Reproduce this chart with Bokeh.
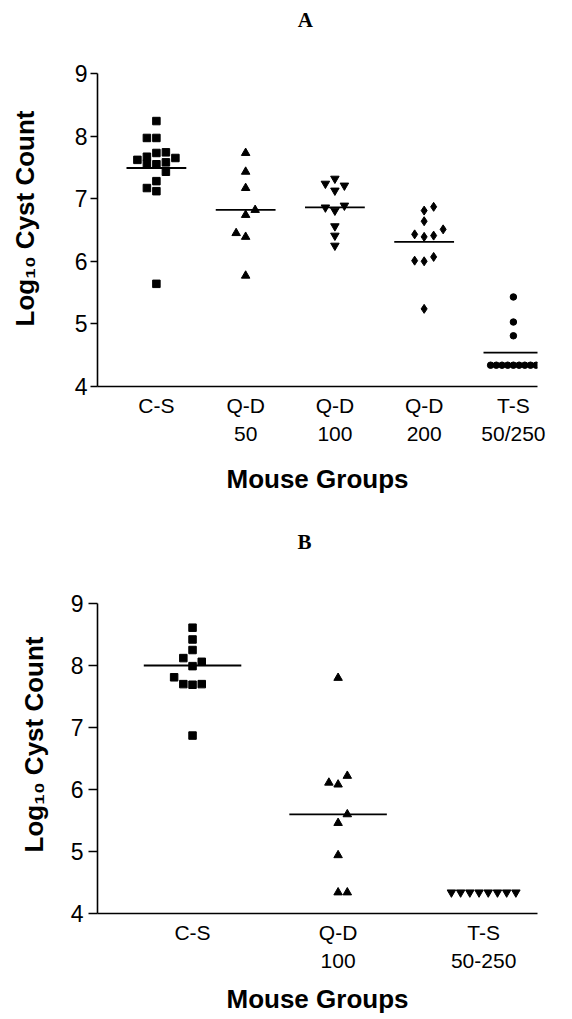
from bokeh.plotting import figure
from bokeh.layouts import column
from bokeh.models import FixedTicker, LinearAxis
from bokeh.embed import file_html
from bokeh.resources import INLINE

# ---------------- Data: panel A ----------------
a_groups = ["C-S", "Q-D\n50", "Q-D\n100", "Q-D\n200", "T-S\n50/250"]
a_cs = [8.24, 7.97, 7.97, 7.62, 7.67, 7.73, 7.74, 7.65, 7.56, 7.55, 7.58, 7.43, 7.28, 7.17, 7.12, 5.64]
a_qd50 = [7.73, 7.43, 7.17, 6.82, 6.74, 6.45, 6.39, 5.77]
a_qd100 = [7.32, 7.24, 7.21, 7.13, 6.86, 6.89, 6.81, 6.56, 6.41, 6.25]
a_qd200 = [6.87, 6.81, 6.64, 6.51, 6.43, 6.39, 6.41, 6.01, 6.00, 6.07, 5.24]
a_ts = [5.43, 5.03, 4.81, 4.34, 4.34, 4.34, 4.34, 4.34, 4.34, 4.34, 4.34, 4.34]
a_means = [7.49, 6.82, 6.86, 6.31, 4.54]

# ---------------- Data: panel B ----------------
b_groups = ["C-S", "Q-D\n100", "T-S\n50-250"]
b_cs = [8.61, 8.42, 8.25, 8.12, 8.06, 7.99, 7.81, 7.70, 7.69, 7.70, 6.87]
b_qd100 = [7.80, 6.22, 6.11, 6.08, 5.60, 5.46, 4.94, 4.34, 4.34]
b_ts = [4.34, 4.34, 4.34, 4.34, 4.34, 4.34, 4.34, 4.34]
b_means = [8.00, 5.60]

y_ticks = [4, 5, 6, 7, 8, 9]

# side-by-side slots for overlapping points (layout only)
a_cs_slot = [0, -1, 0, -2, -1, 0, 1, 2, -1, 0, 1, 1, 0, -1, 0, 0]
a_qd50_slot = [0, 0, 0, 1, 0, -1, 0, 0]
a_qd100_slot = [0, -1, 1, 0, -1, 1, 0, 0, 0, 0]
a_qd200_slot = [1, 0, 0, 2, -1, 0, 1, -1, 0, 1, 0]
a_ts_slot = [0, 0, 0, -2.4, -1.8, -1.2, -0.6, 0, 0.6, 1.2, 1.8, 2.4]
b_cs_slot = [0, 0, 0, -1, 1, 0, -2, -1, 0, 1, 0]
b_qd100_slot = [0, 1, -1, 0, 1, 0, 0, 0, 1]
b_ts_slot = [-3.5, -2.5, -1.5, -0.5, 0.5, 1.5, 2.5, 3.5]

SANS = "Liberation Sans"
SERIF = "Liberation Serif"
SLOT_PX = 9.5


def style(p, groups, label_standoff, tick_standoff, tick_out, x_label_standoff):
    p.xgrid.visible = False
    p.ygrid.visible = False
    p.outline_line_color = None
    p.background_fill_color = "white"
    p.border_fill_color = "white"

    p.yaxis.bounds = (4, 9)
    p.yaxis.ticker = FixedTicker(ticks=y_ticks)
    p.yaxis.major_label_text_font = SANS
    p.yaxis.major_label_text_font_size = "23px"
    p.yaxis.major_label_text_color = "black"
    p.yaxis.major_label_standoff = tick_standoff
    p.yaxis.major_tick_out = tick_out
    p.yaxis.major_tick_in = 0
    p.yaxis.minor_tick_line_color = None
    p.yaxis.axis_line_width = 1.6
    p.yaxis.major_tick_line_width = 1.4
    p.yaxis.axis_line_color = "black"
    p.yaxis.major_tick_line_color = "black"
    p.yaxis.axis_label = "Log\u2081\u2080 Cyst Count"
    p.yaxis.axis_label_text_font = SANS
    p.yaxis.axis_label_text_font_style = "bold"
    p.yaxis.axis_label_text_font_size = "26px"
    p.yaxis.axis_label_text_color = "black"
    p.yaxis.axis_label_standoff = label_standoff

    p.xaxis.ticker = FixedTicker(ticks=list(range(1, len(groups) + 1)))
    p.xaxis.major_label_overrides = {i + 1: g for i, g in enumerate(groups)}
    p.xaxis.major_label_text_font = SANS
    p.xaxis.major_label_text_font_size = "21px"
    p.xaxis.major_label_text_color = "black"
    p.xaxis.major_label_text_line_height = 1.25
    p.xaxis.major_label_standoff = 7
    p.xaxis.major_tick_out = 0
    p.xaxis.major_tick_in = 0
    p.xaxis.major_tick_line_color = None
    p.xaxis.minor_tick_line_color = None
    p.xaxis.axis_line_width = 1.6
    p.xaxis.axis_line_color = "black"
    p.xaxis.axis_label = "Mouse Groups"
    p.xaxis.axis_label_text_font = SANS
    p.xaxis.axis_label_text_font_style = "bold"
    p.xaxis.axis_label_text_font_size = "26px"
    p.xaxis.axis_label_text_color = "black"
    p.xaxis.axis_label_standoff = x_label_standoff


def add_panel_title(p, text, x_pos, standoff):
    # panel letter drawn as the single label of a line-less axis above the frame
    ax = LinearAxis(ticker=FixedTicker(ticks=[x_pos]),
                    major_label_overrides={x_pos: text},
                    axis_line_color=None, major_tick_line_color=None,
                    minor_tick_line_color=None,
                    major_tick_in=0, major_tick_out=0,
                    major_label_standoff=standoff,
                    major_label_text_font=SERIF,
                    major_label_text_font_style="bold",
                    major_label_text_font_size="21px",
                    major_label_text_color="black")
    p.add_layout(ax, "above")


def xs(cat, slots, px_per_unit):
    return [cat + s * SLOT_PX / px_per_unit for s in slots]


# ---------------- Panel A ----------------
a_xr = (0.34, 5.27)
a_yr = (4, 9.367)
a_left, a_right, a_top, a_bottom = 97, 27, 50, 118
a_w, a_h = 564, 504
pa = figure(width=a_w, height=a_h, x_range=a_xr, y_range=a_yr,
            output_backend="svg", toolbar_location=None,
            min_border_left=a_left, min_border_right=a_right,
            min_border_top=a_top, min_border_bottom=a_bottom)
style(pa, a_groups, 32, 3, 7, 16)
a_ppu = (a_w - a_left - a_right) / (a_xr[1] - a_xr[0])
add_panel_title(pa, "A", 2.67, 19)

pa.scatter(xs(1, a_cs_slot, a_ppu), a_cs, marker="square", size=7.5, color="black")
pa.scatter(xs(2, a_qd50_slot, a_ppu), a_qd50, marker="triangle", size=8.5, color="black")
pa.scatter(xs(3, a_qd100_slot, a_ppu), a_qd100, marker="inverted_triangle", size=8.5, color="black")
pa.scatter(xs(4, a_qd200_slot, a_ppu), a_qd200, marker="diamond", size=9, color="black")
pa.scatter(xs(5, a_ts_slot, a_ppu), a_ts, marker="circle", size=6.5, color="black")

a_cat = list(range(1, len(a_means) + 1))
pa.segment(x0=[c - 0.335 for c in a_cat], x1=[c + 0.335 for c in a_cat],
           y0=a_means, y1=a_means, line_color="black", line_width=1.8)

# ---------------- Panel B ----------------
b_xr = (0.347, 3.37)
b_yr = (4, 9.452)
b_left, b_right, b_top, b_bottom = 86, 24, 71, 105
b_w, b_h = 564, 514
pb = figure(width=b_w, height=b_h, x_range=b_xr, y_range=b_yr,
            output_backend="svg", toolbar_location=None,
            min_border_left=b_left, min_border_right=b_right,
            min_border_top=b_top, min_border_bottom=b_bottom)
style(pb, b_groups, 19, 5, 9, 9)
b_ppu = (b_w - b_left - b_right) / (b_xr[1] - b_xr[0])
add_panel_title(pb, "B", 1.77, 22)

pb.scatter(xs(1, b_cs_slot, b_ppu), b_cs, marker="square", size=7.5, color="black")
pb.scatter(xs(2, b_qd100_slot, b_ppu), b_qd100, marker="triangle", size=8.5, color="black")
pb.scatter(xs(3, b_ts_slot, b_ppu), b_ts, marker="inverted_triangle", size=8.5, color="black")

b_cat = list(range(1, len(b_means) + 1))
pb.segment(x0=[c - 0.335 for c in b_cat], x1=[c + 0.335 for c in b_cat],
           y0=b_means, y1=b_means, line_color="black", line_width=1.8)

layout = column(pa, pb, spacing=0)
open("out.html", "w").write(file_html(layout, INLINE))
